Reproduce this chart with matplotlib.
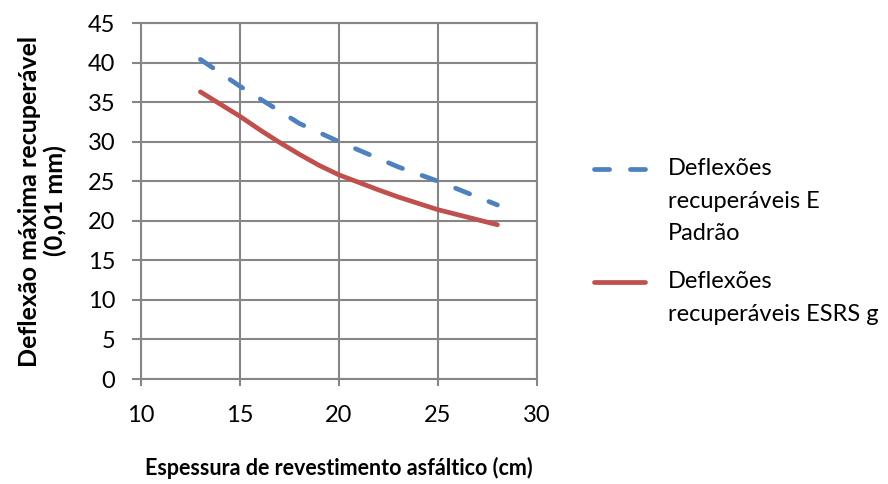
import matplotlib
matplotlib.use("Agg")
import matplotlib.pyplot as plt

plt.rcParams['font.family'] = ['Lato', 'DejaVu Sans']

espessura_padrao = [13, 15, 18, 20, 23, 25, 28]
defl_padrao = [40.4, 37.0, 32.3, 30.0, 26.8, 25.0, 22.0]
espessura_esrs = [13, 15, 16, 17, 18, 19, 20, 22, 23, 25, 28]
defl_esrs = [36.3, 33.2, 31.5, 29.9, 28.4, 27.0, 25.8, 23.9, 23.0, 21.4, 19.5]

label_padrao = ["Deflexões", "recuperáveis E", "Padrão"]
label_esrs = ["Deflexões", "recuperáveis ESRS g"]

grey = '#868686'
blue = '#4F81BD'
red = '#C0504D'
fs = 17

fig = plt.figure(figsize=(8.88, 4.84), dpi=100)
ax = fig.add_axes([141/888, 1-379/484, 396/888, 356/484])

ax.plot(espessura_padrao, defl_padrao, color=blue, lw=3.4, dashes=(3.2, 4.4),
        dash_capstyle='round')
ax.plot(espessura_esrs, defl_esrs, color=red, lw=3.4, solid_capstyle='round',
        solid_joinstyle='round')

ax.set_xlim(10, 30)
ax.set_ylim(0, 45)
ax.set_xticks(range(10, 31, 5))
ax.set_yticks(range(0, 46, 5))
ax.grid(True, color=grey, lw=1.5)
ax.set_axisbelow(True)
for s in ax.spines.values():
    s.set_color(grey)
    s.set_linewidth(1.5)
ax.tick_params(axis='x', colors=grey, labelcolor='black', length=5, width=1.5,
               labelsize=fs, pad=14)
ax.tick_params(axis='y', colors=grey, labelcolor='black', length=6.5, width=1.5,
               labelsize=fs, pad=12)

ax.set_xlabel("Espessura de revestimento asfáltico (cm)", fontsize=15.5,
              fontweight='bold', labelpad=22)
ax.set_ylabel("Deflexão máxima recuperável\n(0,01 mm)", fontsize=18,
              fontweight='bold', linespacing=1.1)
ax.yaxis.set_label_coords(-0.187, 0.5)

# legend drawn by hand so the key sits on the first text line
def legend_entry(y0, lines, **style):
    ax.plot([1.145, 1.272], [y0, y0], transform=ax.transAxes, clip_on=False,
            lw=3.4, **style)
    for i, line in enumerate(lines):
        ax.text(1.331, y0 - i * 0.09, line, transform=ax.transAxes,
                fontsize=fs, va='center', ha='left')

legend_entry(0.590, label_padrao, color=blue, dashes=(3.2, 4.4),
             dash_capstyle='round')
legend_entry(0.2725, label_esrs, color=red, solid_capstyle='round')

fig.savefig('out.png', dpi=100)
